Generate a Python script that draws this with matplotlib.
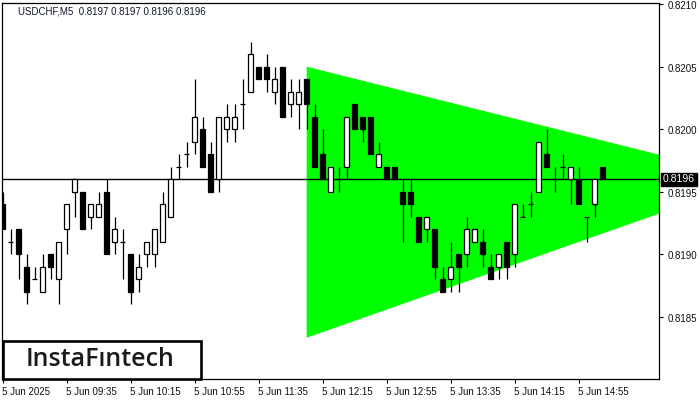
import matplotlib
matplotlib.use("Agg")
import matplotlib.pyplot as plt
from matplotlib.patches import Polygon, Rectangle
import matplotlib.transforms as mtransforms

# USDCHF M5, 5 Jun 2025 from 08:55
opens = [0.8194, 0.8191, 0.8192, 0.8189, 0.8188, 0.8187, 0.8190, 0.8188, 0.8192, 0.8195,
         0.8195, 0.8193, 0.8193, 0.8195, 0.8191, 0.8191, 0.8190, 0.8188, 0.8190, 0.8190,
         0.8191, 0.8193, 0.8197, 0.8198, 0.8199, 0.8200, 0.8198, 0.8196, 0.8200, 0.8200,
         0.8202, 0.8203, 0.8205, 0.8205, 0.8203, 0.8205, 0.8202, 0.8202, 0.8204, 0.8201,
         0.8198, 0.8195, 0.8196, 0.8197, 0.8202, 0.8201, 0.8201, 0.8197, 0.8197, 0.8197,
         0.8195, 0.8195, 0.8193, 0.8192, 0.8192, 0.8188, 0.8188, 0.8190, 0.8190, 0.8191,
         0.8191, 0.8189, 0.8189, 0.8191, 0.8190, 0.8193, 0.8194, 0.8195, 0.8198, 0.8196,
         0.8197, 0.8196, 0.8196, 0.8193, 0.8194, 0.8197]
highs = [0.8195, 0.8192, 0.8192, 0.8190, 0.8189, 0.8190, 0.8190, 0.8191, 0.8194, 0.8196,
         0.8195, 0.8194, 0.8195, 0.8196, 0.8193, 0.8192, 0.8190, 0.8190, 0.8191, 0.8192,
         0.8195, 0.8197, 0.8198, 0.8199, 0.8204, 0.8201, 0.8199, 0.8201, 0.8202, 0.8202,
         0.8204, 0.8207, 0.8205, 0.8206, 0.8205, 0.8205, 0.8204, 0.8204, 0.8204, 0.8202,
         0.8200, 0.8197, 0.8197, 0.8201, 0.8202, 0.8201, 0.8201, 0.8199, 0.8197, 0.8197,
         0.8196, 0.8196, 0.8193, 0.8193, 0.8192, 0.8189, 0.8191, 0.8190, 0.8193, 0.8192,
         0.8192, 0.8190, 0.8190, 0.8191, 0.8194, 0.8194, 0.8195, 0.8199, 0.8200, 0.8197,
         0.8198, 0.8197, 0.8197, 0.8193, 0.8196, 0.8197]
lows = [0.8192, 0.8190, 0.8188, 0.8186, 0.8188, 0.8187, 0.8188, 0.8186, 0.8190, 0.8193,
        0.8192, 0.8192, 0.8193, 0.8190, 0.8190, 0.8188, 0.8186, 0.8187, 0.8189, 0.8189,
        0.8191, 0.8193, 0.8196, 0.8197, 0.8198, 0.8197, 0.8195, 0.8195, 0.8199, 0.8199,
        0.8200, 0.8203, 0.8204, 0.8203, 0.8202, 0.8201, 0.8201, 0.8200, 0.8200, 0.8197,
        0.8196, 0.8195, 0.8195, 0.8196, 0.8200, 0.8199, 0.8198, 0.8197, 0.8196, 0.8196,
        0.8191, 0.8193, 0.8191, 0.8191, 0.8188, 0.8187, 0.8187, 0.8187, 0.8189, 0.8191,
        0.8189, 0.8188, 0.8188, 0.8188, 0.8189, 0.8193, 0.8193, 0.8195, 0.8197, 0.8195,
        0.8196, 0.8194, 0.8194, 0.8191, 0.8193, 0.8196]
closes = [0.8192, 0.8191, 0.8190, 0.8187, 0.8188, 0.8189, 0.8189, 0.8191, 0.8194, 0.8196,
          0.8192, 0.8194, 0.8194, 0.8190, 0.8192, 0.8191, 0.8187, 0.8189, 0.8191, 0.8192,
          0.8194, 0.8196, 0.8197, 0.8198, 0.8201, 0.8197, 0.8195, 0.8201, 0.8201, 0.8201,
          0.8202, 0.8206, 0.8204, 0.8204, 0.8204, 0.8201, 0.8203, 0.8203, 0.8202, 0.8197,
          0.8196, 0.8197, 0.8196, 0.8201, 0.8200, 0.8200, 0.8198, 0.8198, 0.8196, 0.8196,
          0.8194, 0.8194, 0.8191, 0.8193, 0.8189, 0.8187, 0.8189, 0.8189, 0.8192, 0.8192,
          0.8190, 0.8188, 0.8190, 0.8189, 0.8194, 0.8193, 0.8194, 0.8199, 0.8197, 0.8196,
          0.8197, 0.8197, 0.8194, 0.8193, 0.8196, 0.8196]

time_ticks = [0, 8, 16, 24, 32, 40, 48, 56, 64, 72]
time_labels = ["5 Jun 2025", "5 Jun 09:35", "5 Jun 10:15", "5 Jun 10:55", "5 Jun 11:35",
               "5 Jun 12:15", "5 Jun 12:55", "5 Jun 13:35", "5 Jun 14:15", "5 Jun 14:55"]
price_ticks = [0.8185, 0.8190, 0.8195, 0.8200, 0.8205, 0.8210]

# triangle pattern: (bar index, price)
tri_x = [38, 94.3, 38]
tri_y = [0.8205, 0.8196, 0.81833]
last_price = 0.8196

plt.rcParams['font.family'] = ['Liberation Sans', 'DejaVu Sans']

fig = plt.figure(figsize=(7, 4), dpi=100, facecolor='white')
ax = fig.add_axes([2 / 700, 21 / 400, 657 / 700, 376 / 400])

ax.add_patch(Polygon(list(zip(tri_x, tri_y)), closed=True, facecolor='#00ff00',
                     edgecolor='none', zorder=1))

ax.axhline(last_price, color='black', lw=1.0, zorder=2)

w = 0.6
for i in range(len(opens)):
    o, h, l, c = opens[i], highs[i], lows[i], closes[i]
    ax.vlines(i, l, h, color='black', lw=0.9, zorder=3)
    if o == c:
        ax.hlines(o, i - w / 2, i + w / 2, color='black', lw=0.9, zorder=4)
    else:
        fc = 'white' if c > o else 'black'
        ax.bar(i, abs(c - o), bottom=min(o, c), width=w, color=fc,
               edgecolor='black', lw=0.9, zorder=4)

ax.set_xlim(-0.09, 82.04)
ax.set_ylim(0.81800, 0.82101)

ax.yaxis.tick_right()
ax.set_yticks(price_ticks)
ax.set_yticklabels([f"{p:.4f}" for p in price_ticks], fontsize=7, color='#111111')
ax.tick_params(axis='y', length=3, width=0.8, pad=3, direction='out')
yoff = mtransforms.ScaledTranslation(0, -1 / 100, fig.dpi_scale_trans)
for lab in ax.get_yticklabels():
    lab.set_transform(lab.get_transform() + yoff)

ax.set_xticks(time_ticks)
ax.set_xticklabels(time_labels, fontsize=7, color='#111111')
ax.tick_params(axis='x', length=3, width=0.8, pad=3, direction='out')
offset = mtransforms.ScaledTranslation(-1 / 100, 0, fig.dpi_scale_trans)
for lab in ax.get_xticklabels():
    lab.set_horizontalalignment('left')
    lab.set_transform(lab.get_transform() + offset)

for s in ax.spines.values():
    s.set_linewidth(0.9)
    s.set_color('black')

# current price tag on the right scale
trans = mtransforms.blended_transform_factory(ax.transAxes, ax.transData)
ax.text(1.006, last_price, f"{last_price:.4f}", transform=trans, fontsize=7.5,
        color='white', ha='left', va='center', zorder=10, clip_on=False,
        bbox=dict(boxstyle='square,pad=0.15', facecolor='black', edgecolor='black'))

fig.text(18 / 700, 1 - 11 / 400, "USDCHF,M5  0.8197 0.8197 0.8196 0.8196",
         fontsize=7, color='#101828', ha='left', va='center')

# logo box
fig.patches.append(Rectangle((3 / 700, 21 / 400), 198 / 700, 38 / 400,
                             transform=fig.transFigure, facecolor='white',
                             edgecolor='black', lw=1.9, zorder=20))
fig.text(100 / 700, 1 - 360 / 400, "InstaF\u0131ntech", fontsize=18, fontweight='semibold',
         family='Open Sans', color='#1a1a1a', ha='center', va='center', zorder=21)

fig.savefig("out.png", dpi=100, facecolor='white')
